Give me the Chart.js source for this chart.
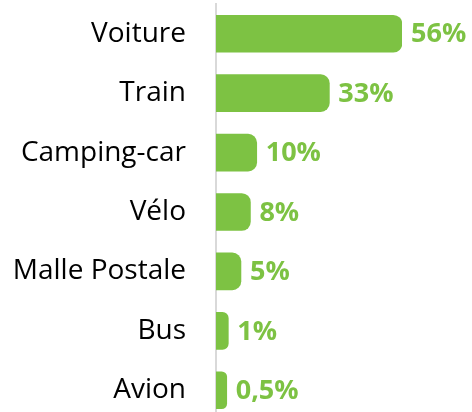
<!DOCTYPE html>
<html>
<head>
<meta charset="utf-8">
<script src="https://cdn.jsdelivr.net/npm/chart.js@4.4.1/dist/chart.umd.min.js"></script>
<style>
  html, body { margin: 0; padding: 0; background: #fff; overflow: hidden; }
  #wrap { position: relative; width: 472px; height: 420px; }
</style>
</head>
<body>
<div id="wrap"><canvas id="chart"></canvas></div>
<script>
// data
const categories = ['Voiture', 'Train', 'Camping-car', 'Vélo', 'Malle Postale', 'Bus', 'Avion'];
const shares = [56, 33, 10, 8, 5, 1, 0.5];
const shareLabels = ['56%', '33%', '10%', '8%', '5%', '1%', '0,5%'];

const GREEN = '#7DC243';
const X_MIN = -2.9; // bars start a bit left of zero in the original

/* value labels after each bar */
const valueLabels = {
  id: 'valueLabels',
  afterDatasetsDraw(chart) {
    const ctx = chart.ctx;
    const meta = chart.getDatasetMeta(0);
    ctx.save();
    ctx.font = 'bold 27px "Open Sans"';
    ctx.fillStyle = GREEN;
    ctx.textAlign = 'left';
    ctx.textBaseline = 'middle';
    meta.data.forEach((bar, i) => {
      ctx.fillText(shareLabels[i], bar.x + 9, bar.y + 1);
    });
    ctx.restore();
  }
};

new Chart(document.getElementById('chart'), {
  type: 'bar',
  data: {
    labels: categories,
    datasets: [{
      data: shares,
      base: X_MIN,
      backgroundColor: GREEN,
      borderWidth: 0,
      borderSkipped: 'start',
      borderRadius: { topLeft: 0, bottomLeft: 0, topRight: 9, bottomRight: 9 },
      barThickness: 37
    }]
  },
  options: {
    indexAxis: 'y',
    responsive: true,
    maintainAspectRatio: false,
    animation: false,
    layout: { padding: { top: 4, right: 70, bottom: 0, left: 0 } },
    scales: {
      x: { display: false, min: X_MIN, max: 56 },
      y: {
        grid: { display: false, drawTicks: false },
        border: { display: true, color: '#D9D9D9', width: 2 },
        ticks: { color: '#000', font: { family: '"Open Sans"', size: 28 }, padding: 30 },
        afterFit(scale) {
          scale.width = 216;
          // tick padding should only push labels sideways, not shrink the plot vertically
          scale.paddingTop = 0;
          scale.paddingBottom = 0;
        }
      }
    },
    plugins: { legend: { display: false }, tooltip: { enabled: false } }
  },
  plugins: [valueLabels]
});
</script>
</body>
</html>
